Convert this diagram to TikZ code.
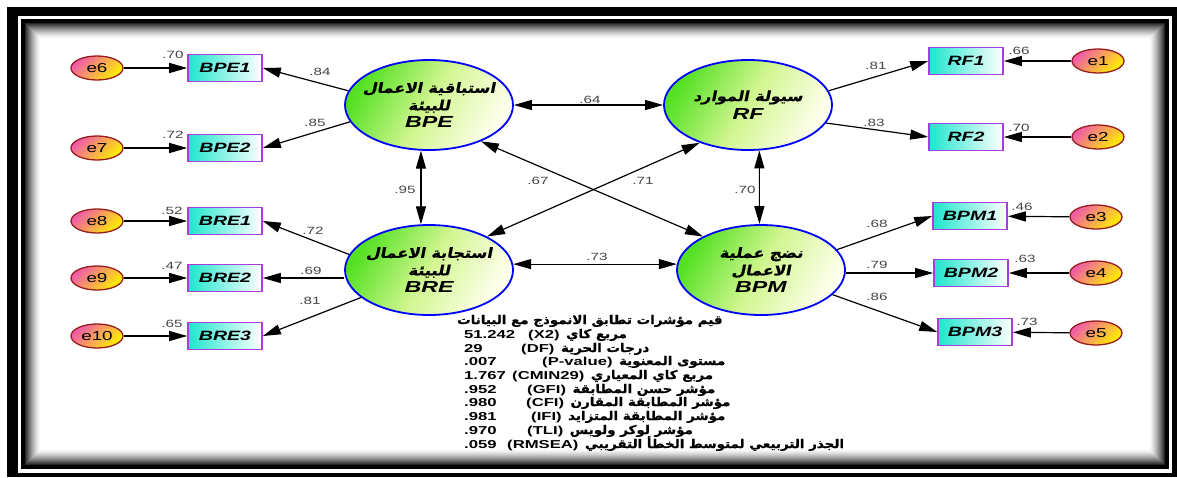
\documentclass[tikz,border=0pt]{standalone}
\usepackage{fontspec}
\setmainfont{Liberation Sans}[FakeStretch=1.45]
\newfontfamily\statfont{Liberation Sans Bold}[FakeStretch=1.45]
\newfontfamily\arfont[Script=Arabic,FakeBold=0.8,FakeStretch=1.12]{DejaVu Sans}
\newfontfamily\arslfont[Script=Arabic,FakeSlant=0.2,FakeBold=0.8,FakeStretch=1.15]{DejaVu Sans}
\TeXXeTstate=1
\usetikzlibrary{shapes.geometric,arrows.meta}
\definecolor{latgreen}{RGB}{85,225,35}
\definecolor{latmid}{RGB}{210,246,145}
\definecolor{latend}{RGB}{255,255,238}
\definecolor{obscyan}{RGB}{30,230,205}
\definecolor{obsborder}{RGB}{170,60,220}
\definecolor{errpink}{RGB}{240,90,170}
\definecolor{erryellow}{RGB}{255,240,0}
\definecolor{errborder}{RGB}{150,30,30}
\definecolor{lblgray}{RGB}{70,70,70}
\tikzset{
  lat/.style={ellipse, draw=blue, line width=1.8pt, minimum width=168pt, minimum height=90pt, inner xsep=-10pt, inner ysep=0pt, align=center,
    top color=latgreen, bottom color=latend, middle color=latmid, shading angle=60, font=\fontsize{14}{17.5}\selectfont},
  obs/.style={rectangle, draw=obsborder, line width=1.6pt, minimum width=74pt, minimum height=27pt, inner sep=0pt,
    left color=obscyan, right color=white, font=\bfseries\itshape\fontsize{13.5}{14}\selectfont},
  err/.style={ellipse, draw=errborder, line width=1.3pt, minimum width=52pt, minimum height=24pt, inner sep=0pt,
    top color=errpink, bottom color=erryellow, shading angle=45, font=\fontsize{13}{14}\selectfont},
  lbl/.style={inner sep=0pt, text=lblgray, font=\fontsize{10.5}{11}\selectfont},
  arr/.style={-{Triangle[length=18pt,width=10pt]}, line width=1.2pt},
  cov/.style={{Triangle[length=18pt,width=10pt]}-{Triangle[length=18pt,width=10pt]}, line width=1.2pt},
  stat/.style={anchor=base west, inner sep=0pt, font=\statfont\fontsize{11.5}{13}\selectfont},
  statar/.style={anchor=base west, inner sep=0pt, font=\arfont\bfseries\fontsize{12}{13}\selectfont}
}
\begin{document}
\begin{tikzpicture}[x=1pt,y=-1pt]
\useasboundingbox (0,0) rectangle (1177,477);
% frame
\fill[white] (0,0) rectangle (1177,477);
\fill[black] (7,7) rectangle (1177,477);
\fill[white] (18,16) rectangle (1172,473);
\fill[black] (21,19) rectangle (1169,469);
\foreach \i in {0,...,15}{
  \pgfmathsetmacro\shadeval{int(85*(1-\i/16)^1.5)}
  \fill[black!\shadeval!white] (25+\i,23+\i) rectangle (1165-\i,465-\i);
}
\fill[white] (41,39) rectangle (1149,449);

% latent variables
\node[lat] (BPE) at (429,105) {{\arslfont\bfseries\beginR استباقية الاعمال\endR}\\{\arslfont\bfseries\beginR للبيئة\endR}\\[0pt]{\bfseries\itshape\fontsize{16}{16}\selectfont BPE}};
\node[lat] (RF) at (748,105) {{\arslfont\bfseries\beginR سيولة الموارد\endR}\\[1pt]{\bfseries\itshape\fontsize{16}{16}\selectfont RF}};
\node[lat] (BRE) at (429,270) {{\arslfont\bfseries\beginR استجابة الاعمال\endR}\\{\arslfont\bfseries\beginR للبيئة\endR}\\[0pt]{\bfseries\itshape\fontsize{16}{16}\selectfont BRE}};
\node[lat] (BPM) at (761,270) {{\arslfont\bfseries\beginR نضج عملية\endR}\\{\arslfont\bfseries\beginR الاعمال\endR}\\[0pt]{\bfseries\itshape\fontsize{16}{16}\selectfont BPM}};

% observed
\node[obs] (BPE1) at (225,68) {BPE1};
\node[obs] (BPE2) at (225,148) {BPE2};
\node[obs] (BRE1) at (225,221) {BRE1};
\node[obs] (BRE2) at (225,278) {BRE2};
\node[obs] (BRE3) at (225,336) {BRE3};
\node[obs] (RF1) at (966,61) {RF1};
\node[obs] (RF2) at (966,137) {RF2};
\node[obs] (BPM1) at (970,216) {BPM1};
\node[obs] (BPM2) at (971,273) {BPM2};
\node[obs] (BPM3) at (975,332) {BPM3};

% errors
\node[err] (e6) at (97,68) {e6};
\node[err] (e7) at (97,148) {e7};
\node[err] (e8) at (97,221) {e8};
\node[err] (e9) at (97,278) {e9};
\node[err] (e10) at (97,336) {e10};
\node[err] (e1) at (1098,61) {e1};
\node[err] (e2) at (1098,137) {e2};
\node[err] (e3) at (1096,217) {e3};
\node[err] (e4) at (1096,273) {e4};
\node[err] (e5) at (1096,333) {e5};

% error arrows
\draw[arr] (e6) -- (BPE1);
\draw[arr] (e7) -- (BPE2);
\draw[arr] (e8) -- (BRE1);
\draw[arr] (e9) -- (BRE2);
\draw[arr] (e10) -- (BRE3);
\draw[arr] (e1) -- (RF1);
\draw[arr] (e2) -- (RF2);
\draw[arr] (e3) -- (BPM1);
\draw[arr] (e4) -- (BPM2);
\draw[arr] (e5) -- (BPM3);

% loadings
\draw[arr] (BPE.170) -- (BPE1.east);
\draw[arr] (BPE.192) -- (BPE2.east);
\draw[arr] (BRE.169) -- (BRE1.east);
\draw[arr] (BRE2.east -| BRE.west) -- (BRE2.east);
\draw[arr] (BRE.202) -- (BRE3.east);
\draw[arr] (RF.10) -- (RF1.west);
\draw[arr] (RF.-13) -- (RF2.west);
\draw[arr] (BPM.15) -- (BPM1.west);
\draw[arr] (BPM2.west -| BPM.east) -- (BPM2.west);
\draw[arr] (BPM.-19) -- (BPM3.west);

% covariances
\draw[cov] (BPE) -- (RF);
\draw[cov] (BPE.-100) -- (BRE.100);
\draw[cov] (RF.-76) -- (BPM.92);
\draw[cov] (BRE.4) -- (BPM.176);
\draw[cov] (BPE.-35) -- (BPM.150);
\draw[cov] (RF.-142) -- (BRE.30);

% labels
\node[lbl] (l1) at (173,55) {.70};
\node[lbl] (l2) at (173,135) {.72};
\node[lbl] (l3) at (320,72) {.84};
\node[lbl] (l4) at (315,123) {.85};
\node[lbl] (l5) at (172,211) {.52};
\node[lbl] (l6) at (172,266) {.47};
\node[lbl] (l7) at (172,324) {.65};
\node[lbl] (l8) at (313,231) {.72};
\node[lbl] (l9) at (311,271) {.69};
\node[lbl] (l10) at (310,301) {.81};
\node[lbl] (l11) at (876,66) {.81};
\node[lbl] (l12) at (874,123) {.83};
\node[lbl] (l13) at (1019,51) {.66};
\node[lbl] (l14) at (1019,128) {.70};
\node[lbl] (l15) at (877,224) {.68};
\node[lbl] (l16) at (877,265) {.79};
\node[lbl] (l17) at (877,297) {.86};
\node[lbl] (l18) at (1022,207) {.46};
\node[lbl] (l19) at (1025,259) {.63};
\node[lbl] (l20) at (1027,322) {.73};
\node[lbl] (l21) at (590,100) {.64};
\node[lbl] (l22) at (405,190) {.95};
\node[lbl] (l23) at (745,190) {.70};
\node[lbl] (l24) at (597,257) {.73};
\node[lbl] (l25) at (538,181) {.67};
\node[lbl] (l26) at (643,181) {.71};

% fit statistics
\node[statar] (s1) at (457,324) {\beginR قيم مؤشرات تطابق الانموذج مع البيانات\endR};
\node[stat] (n2) at (464,338) {51.242};
\node[stat] (a2) at (528,338) {(X2)};
\node[statar] (r2) at ([xshift=6pt]a2.base east) {\beginR مربع كاي\endR};
\node[stat] (n3) at (464,352) {29};
\node[stat] (a3) at (521,352) {(DF)};
\node[statar] (r3) at ([xshift=6pt]a3.base east) {\beginR درجات الحرية\endR};
\node[stat] (n4) at (464,365) {.007};
\node[stat] (a4) at (542,365) {(P-value)};
\node[statar] (r4) at ([xshift=6pt]a4.base east) {\beginR مستوى المعنوية\endR};
\node[stat] (n5) at (464,379) {1.767};
\node[stat] (a5) at (512,379) {(CMIN29)};
\node[statar] (r5) at ([xshift=6pt]a5.base east) {\beginR مربع كاي المعياري\endR};
\node[stat] (n6) at (464,393) {.952};
\node[stat] (a6) at (527,393) {(GFI)};
\node[statar] (r6) at ([xshift=6pt]a6.base east) {\beginR مؤشر حسن المطابقة\endR};
\node[stat] (n7) at (464,406) {.980};
\node[stat] (a7) at (526,406) {(CFI)};
\node[statar] (r7) at ([xshift=6pt]a7.base east) {\beginR مؤشر المطابقة المقارن\endR};
\node[stat] (n8) at (464,420) {.981};
\node[stat] (a8) at (531,420) {(IFI)};
\node[statar] (r8) at ([xshift=6pt]a8.base east) {\beginR مؤشر المطابقة المتزايد\endR};
\node[stat] (n9) at (464,434) {.970};
\node[stat] (a9) at (527,434) {(TLI)};
\node[statar] (r9) at ([xshift=6pt]a9.base east) {\beginR مؤشر لوكر ولويس\endR};
\node[stat] (n10) at (464,448) {.059};
\node[stat] (a10) at (507,448) {(RMSEA)};
\node[statar] (r10) at ([xshift=6pt]a10.base east) {\beginR الجذر التربيعي لمتوسط الخطأ التقريبي\endR};
\end{tikzpicture}
\end{document}
